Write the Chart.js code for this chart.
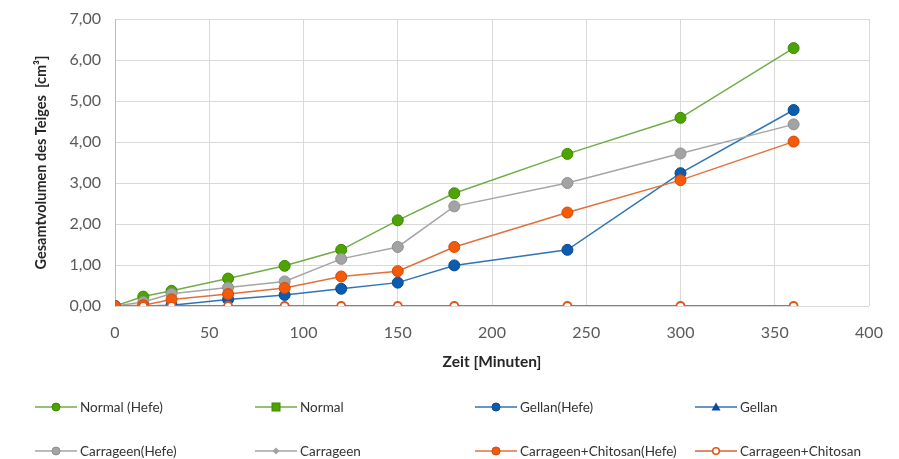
<!DOCTYPE html>
<html>
<head>
<meta charset="utf-8">
<script src="https://cdn.jsdelivr.net/npm/chart.js@4.4.1/dist/chart.umd.min.js"></script>
<style>
  html, body { margin: 0; padding: 0; background: #fff; }
  #wrap { position: relative; width: 899px; height: 459px; }
  #c { position: absolute; left: 0; top: 0; }
  .leg { position: absolute; display: flex; align-items: center; font-family: Lato, sans-serif; font-size: 13.5px; color: #333333; white-space: nowrap; }
  .leg svg { margin-right: 3px; }
</style>
</head>
<body>
<div id="wrap">
  <canvas id="c" width="899" height="459"></canvas>
  <div id="legend"></div>
</div>
<script>
const times = [0, 15, 30, 60, 90, 120, 150, 180, 240, 300, 360];
const normalHefe = [0, 0.23, 0.37, 0.67, 0.98, 1.37, 2.09, 2.75, 3.71, 4.59, 6.29];
const normal = [null, 0, 0, 0, 0, 0, 0, 0, 0, 0, 0];
const gellanHefe = [0, 0, 0.02, 0.16, 0.27, 0.42, 0.57, 0.99, 1.37, 3.24, 4.78];
const gellan = [null, 0, 0, 0, 0, 0, 0, 0, 0, 0, 0];
const carrageenHefe = [0, 0.10, 0.30, 0.45, 0.60, 1.15, 1.44, 2.43, 3.00, 3.72, 4.43];
const carrageen = [null, 0, 0, 0, 0, 0, 0, 0, 0, 0, 0];
const carrChitosanHefe = [0, 0.02, 0.16, 0.29, 0.44, 0.72, 0.85, 1.44, 2.28, 3.07, 4.01];
const carrChitosan = [null, 0, 0, 0, 0, 0, 0, 0, 0, 0, 0];
const seriesNames = ["Normal (Hefe)", "Normal", "Gellan(Hefe)", "Gellan", "Carrageen(Hefe)", "Carrageen", "Carrageen+Chitosan(Hefe)", "Carrageen+Chitosan"];
const yTicks = [0, 1, 2, 3, 4, 5, 6, 7];
const xTicks = [0, 50, 100, 150, 200, 250, 300, 350, 400];

const seriesValues = [normalHefe, normal, gellanHefe, gellan, carrageenHefe, carrageen, carrChitosanHefe, carrChitosan];
const styles = [
  { line: '#70ad47', fill: '#4fa300', border: '#3c8a00', shape: 'circle', r: 5.5 },
  { line: '#70ad47', fill: '#4fa300', border: '#3c8a00', shape: 'rect', r: 4.5 },
  { line: '#2e75b6', fill: '#0a5cb0', border: '#0a4a90', shape: 'circle', r: 5.5 },
  { line: '#2e75b6', fill: '#0a4a9a', border: '#0a3f85', shape: 'triangle', r: 4.5 },
  { line: '#a5a5a5', fill: '#a3a3a3', border: '#8f8f8f', shape: 'circle', r: 5.5 },
  { line: '#a5a5a5', fill: '#a3a3a3', border: '#8f8f8f', shape: 'rectRot', r: 3.5 },
  { line: '#e2703a', fill: '#f55a0a', border: '#d24800', shape: 'circle', r: 5.5 },
  { line: '#d6653a', fill: '#ffffff', border: '#e0561a', shape: 'circle', r: 4 }
];

const datasets = seriesNames.map((name, i) => ({
  label: name,
  data: times.map((t, k) => ({ x: t, y: seriesValues[i][k] })),
  borderColor: styles[i].line,
  backgroundColor: styles[i].fill,
  borderWidth: i === 7 ? 2 : 1.5,
  pointStyle: styles[i].shape,
  pointRadius: styles[i].r,
  pointBackgroundColor: styles[i].fill,
  pointBorderColor: styles[i].border,
  pointBorderWidth: i === 7 ? 1.8 : 1,
  tension: 0,
  order: 7 - i
}));

new Chart(document.getElementById('c'), {
  type: 'line',
  data: { datasets },
  options: {
    responsive: false,
    animation: false,
    layout: { padding: { top: 19, right: 30, bottom: 88, left: 0 } },
    plugins: { legend: { display: false }, tooltip: { enabled: false } },
    scales: {
      x: {
        type: 'linear',
        min: 0, max: 400,
        afterBuildTicks: s => { s.ticks = xTicks.map(v => ({ value: v })); },
        afterFit: s => { s.height = 65; s.paddingLeft = 0; s.paddingRight = 0; },
        grid: { color: '#d9d9d9', drawTicks: false, lineWidth: 1 },
        border: { display: false },
        ticks: { padding: 17, color: '#595959', font: { family: 'Lato', size: 16 } },
        title: { display: true, text: 'Zeit [Minuten]', color: '#262626', font: { family: 'Lato', size: 15.5, weight: 'bold' }, padding: { top: 0, bottom: 0 } }
      },
      y: {
        min: 0, max: 7,
        afterBuildTicks: s => { s.ticks = yTicks.map(v => ({ value: v })); },
        afterFit: s => { s.width = 115; s.paddingTop = 0; s.paddingBottom = 0; },
        grid: { color: '#d9d9d9', drawTicks: false, lineWidth: 1 },
        border: { display: true, color: '#b8bcc4', width: 1 },
        ticks: { padding: 14, color: '#595959', font: { family: 'Lato', size: 16 }, callback: v => v.toFixed(2).replace('.', ',') },
        title: { display: true, text: 'Gesamtvolumen des Teiges  [cm³]', color: '#262626', font: { family: 'Lato', size: 14.5, weight: 'bold' }, padding: { top: 33, bottom: 0 } }
      }
    }
  }
});

// HTML legend (line + marker icons)
const legPos = [
  [35, 408], [255, 408], [475, 408], [695, 408],
  [35, 452], [255, 452], [475, 452], [695, 452]
];
const legOrder = [0, 1, 2, 3, 4, 5, 6, 7];
function markerSvg(st) {
  const cx = 21, cy = 8;
  let m = '';
  if (st.shape === 'circle') m = `<circle cx="${cx}" cy="${cy}" r="${st.r === 4 ? 3.3 : 4}" fill="${st.fill}" stroke="${st.border}" stroke-width="${st.r === 4 ? 1.6 : 1}"/>`;
  else if (st.shape === 'rect') m = `<rect x="${cx - 4}" y="${cy - 4}" width="8" height="8" fill="${st.fill}" stroke="${st.border}" stroke-width="1"/>`;
  else if (st.shape === 'triangle') m = `<polygon points="${cx},${cy - 4.5} ${cx + 4.5},${cy + 3.5} ${cx - 4.5},${cy + 3.5}" fill="${st.fill}"/>`;
  else if (st.shape === 'rectRot') m = `<polygon points="${cx},${cy - 3.5} ${cx + 3.5},${cy} ${cx},${cy + 3.5} ${cx - 3.5},${cy}" fill="${st.fill}"/>`;
  return `<svg width="42" height="16"><line x1="0" y1="${cy}" x2="42" y2="${cy}" stroke="${st.line}" stroke-width="1.5"/>${m}</svg>`;
}
const legend = document.getElementById('legend');
legOrder.forEach((i, k) => {
  const d = document.createElement('div');
  d.className = 'leg';
  d.style.left = legPos[k][0] + 'px';
  d.style.top = (legPos[k][1] - 9) + 'px';
  d.innerHTML = markerSvg(styles[i]) + '<span>' + seriesNames[i] + '</span>';
  legend.appendChild(d);
});
</script>
</body>
</html>
